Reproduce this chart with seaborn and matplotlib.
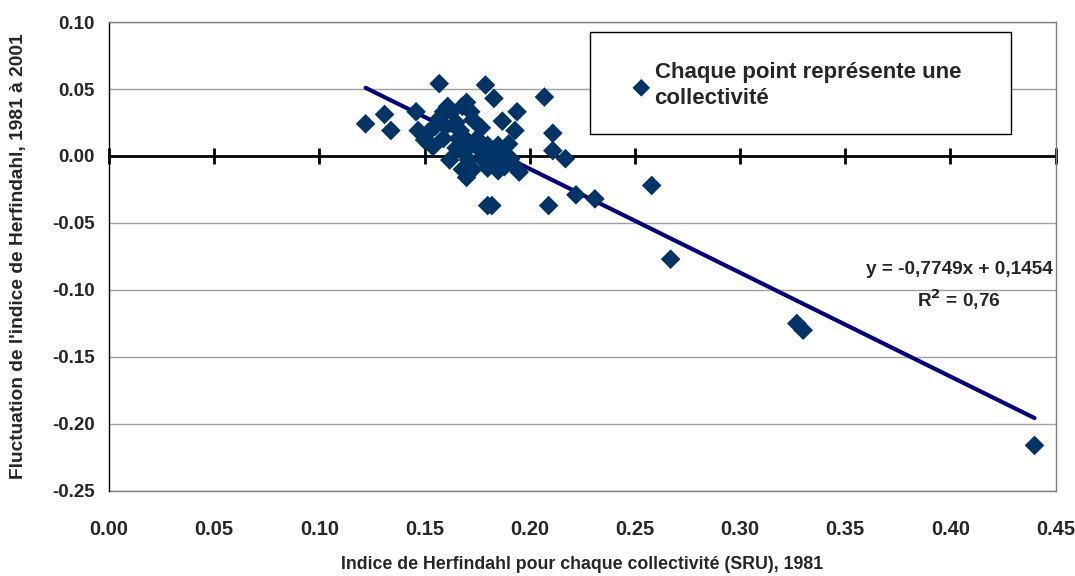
import matplotlib
matplotlib.use("Agg")
import matplotlib.pyplot as plt
from matplotlib.patches import Rectangle
import seaborn as sns
import numpy as np
import pandas as pd

# --- données ---
herfindahl_1981 = [
    0.122, 0.131, 0.134, 0.146, 0.147, 0.157, 0.179, 0.183, 0.207, 0.194,
    0.187, 0.193, 0.211, 0.211, 0.217, 0.209, 0.180, 0.182, 0.170, 0.222,
    0.231, 0.258, 0.267, 0.327, 0.330, 0.440,
    0.150, 0.152, 0.155, 0.157, 0.159, 0.161, 0.163, 0.160, 0.159, 0.162,
    0.165, 0.167, 0.168, 0.170, 0.172, 0.173, 0.170, 0.168, 0.171, 0.173,
    0.175, 0.177, 0.176, 0.178, 0.180, 0.182, 0.184, 0.185, 0.187, 0.188,
    0.190, 0.191, 0.192, 0.195, 0.180, 0.185, 0.165, 0.154, 0.166, 0.172,
    0.168,
]
fluctuation = [
    0.024, 0.031, 0.019, 0.033, 0.019, 0.054, 0.053, 0.043, 0.044, 0.033,
    0.026, 0.019, 0.017, 0.004, -0.002, -0.037, -0.037, -0.037, -0.016, -0.029,
    -0.032, -0.022, -0.077, -0.125, -0.130, -0.216,
    0.012, 0.018, 0.022, 0.028, 0.033, 0.037, 0.033, 0.022, 0.013, -0.003,
    0.006, 0.019, 0.037, 0.040, 0.033, 0.027, 0.012, 0.003, -0.003, -0.010,
    0.013, 0.021, 0.005, -0.003, 0.008, 0.002, -0.005, 0.008, 0.001, -0.008,
    0.009, -0.002, -0.006, -0.012, -0.009, -0.011, 0.025, 0.007, 0.013, 0.008,
    -0.010,
]

# droite de tendance (Excel)
pente = -0.7749
ordonnee = 0.1454
r2 = 0.76

x_ticks = [0.00, 0.05, 0.10, 0.15, 0.20, 0.25, 0.30, 0.35, 0.40, 0.45]
y_ticks = [0.10, 0.05, 0.00, -0.05, -0.10, -0.15, -0.20, -0.25]

df = pd.DataFrame({"x": herfindahl_1981, "y": fluctuation})
x_line = np.array([min(herfindahl_1981), max(herfindahl_1981)])
df_line = pd.DataFrame({"x": x_line, "y": pente * x_line + ordonnee})

sns.set_style("white")
plt.rcParams["font.family"] = ["Liberation Sans", "DejaVu Sans"]
plt.rcParams["font.weight"] = "bold"

fig = plt.figure(figsize=(10.75, 5.76), dpi=100)
ax = fig.add_axes([0.1014, 0.1476, 0.8805, 0.8142])

# grille horizontale grise
for yt in y_ticks:
    if yt != 0:
        ax.axhline(yt, color="#a0a0a0", lw=1, zorder=0)

sns.lineplot(data=df_line, x="x", y="y", color="#000080", lw=3, ax=ax,
             zorder=2, legend=False)
sns.scatterplot(data=df, x="x", y="y", marker="D", s=100, color="#003366",
                edgecolor="none", ax=ax, zorder=3,
                label="Chaque point représente une\ncollectivité")

ax.set_xlim(0, 0.45)
ax.set_ylim(-0.25, 0.10)

# axe des x qui croise en 0 avec graduations
ax.spines["bottom"].set_position(("data", 0))
ax.spines["bottom"].set_color("black")
ax.spines["bottom"].set_linewidth(2)
ax.spines["bottom"].set_zorder(1)
ax.set_xticks(x_ticks)
ax.tick_params(axis="x", bottom=True, direction="inout", length=11, width=2,
               labelbottom=False, color="black")

ax.spines["left"].set_color("black")
ax.spines["left"].set_linewidth(1)
for s in ["top", "right"]:
    ax.spines[s].set_color("#808080")
    ax.spines[s].set_linewidth(1)

ax.set_yticks(y_ticks)
ax.set_yticklabels([f"{v:.2f}" for v in y_ticks], fontsize=13.5, fontweight="bold")
ax.tick_params(axis="y", length=0, pad=10)

# étiquettes des x en bas du graphique
sec = ax.secondary_xaxis("bottom")
sec.set_xticks(x_ticks)
sec.set_xticklabels([f"{v:.2f}" for v in x_ticks], fontsize=14.5, fontweight="bold")
sec.tick_params(length=0, pad=21)
sec.spines["bottom"].set_color("#808080")
sec.spines["bottom"].set_linewidth(1)
sec.set_xlabel("Indice de Herfindahl pour chaque collectivité (SRU), 1981",
               fontsize=12.75, fontweight="bold", labelpad=12)

ax.set_xlabel("")
ax.set_ylabel("Fluctuation de l'indice de Herfindahl, 1981 à 2001",
              fontsize=13.8, fontweight="bold", labelpad=18)

ax.text(0.4486, -0.085, f"y = {pente:.4f}x + {ordonnee:.4f}".replace(".", ","),
        ha="right", va="center", fontsize=13.7, fontweight="bold")
ax.text(0.404, -0.1075, f"R$^2$ = {r2:.2f}".replace(".", ","),
        ha="center", va="center", fontsize=13.7, fontweight="bold")

# cadre de la légende
ax.add_patch(Rectangle((0.5084, 0.7612), 0.4441, 0.2175, transform=ax.transAxes,
                       facecolor="white", edgecolor="black", lw=1, zorder=4))

leg = ax.legend(loc="upper left", bbox_to_anchor=(0.5506, 0.915),
                frameon=False, prop={"size": 16, "weight": "bold"},
                borderpad=0, borderaxespad=0, handlelength=1.0,
                handletextpad=0.1, markerscale=0.9)
leg.set_zorder(5)
for t in leg.get_texts():
    t.set_linespacing(1.35)
for hp in leg._legend_handle_box.get_children():
    hp.align = "top"

fig.savefig("out.png", dpi=100)
